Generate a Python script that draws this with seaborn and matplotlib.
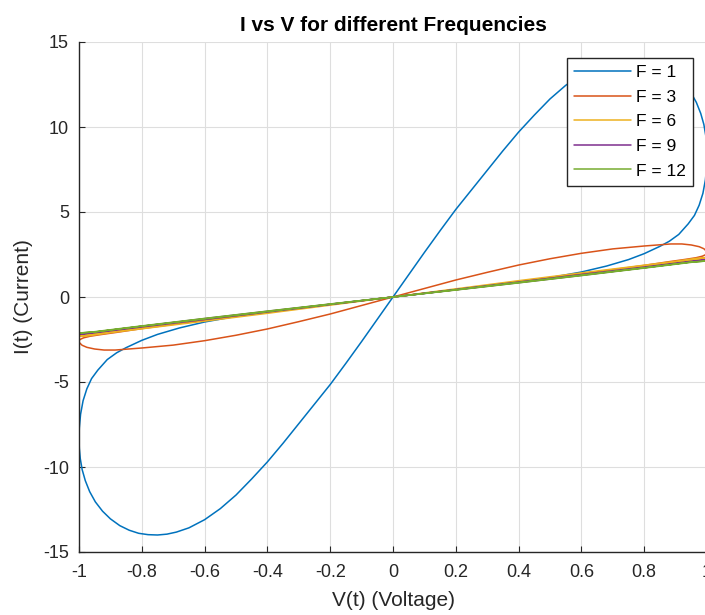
import matplotlib
matplotlib.use("Agg")
import matplotlib.pyplot as plt
import seaborn as sns
import pandas as pd

# ---- data: I-V loops of a memristor driven at several frequencies ----
freq_labels = ["F = 1", "F = 3", "F = 6", "F = 9", "F = 12"]
line_colors = ["#0072BD", "#D95319", "#EDB120", "#7E2F8E", "#77AC30"]

# F = 1 : positive half-cycle (low branch out, around the lobe, steep branch back)
v_f1_pos = [0.0, 0.1, 0.2, 0.3, 0.4, 0.5, 0.6, 0.68, 0.75, 0.8, 0.85, 0.88,
            0.91, 0.94, 0.96, 0.975, 0.987, 0.995, 0.999, 1.0, 0.999, 0.996,
            0.99, 0.98, 0.966, 0.948, 0.925, 0.9, 0.87, 0.84, 0.81, 0.78, 0.75,
            0.72, 0.69, 0.65, 0.6, 0.55, 0.5, 0.45, 0.4, 0.35, 0.3, 0.25, 0.2,
            0.15, 0.1, 0.05, 0.0]
i_f1_pos = [0.0, 0.21, 0.43, 0.65, 0.88, 1.14, 1.47, 1.82, 2.2, 2.55, 2.98, 3.28,
            3.68, 4.3, 4.8, 5.4, 6.1, 6.9, 7.7, 8.3, 8.9, 9.5, 10.15, 10.8,
            11.45, 12.05, 12.6, 13.05, 13.45, 13.72, 13.9, 13.98, 14.0, 13.95,
            13.83, 13.58, 13.1, 12.45, 11.65, 10.7, 9.7, 8.6, 7.45, 6.3, 5.15,
            3.9, 2.62, 1.31, 0.0]
# F = 1 : negative half-cycle
v_f1_neg = [0.0, -0.1, -0.2, -0.3, -0.4, -0.5, -0.6, -0.68, -0.75, -0.8, -0.85,
            -0.88, -0.91, -0.94, -0.96, -0.975, -0.987, -0.995, -0.999, -1.0,
            -0.999, -0.996, -0.99, -0.98, -0.966, -0.948, -0.925, -0.9, -0.87,
            -0.84, -0.81, -0.78, -0.75, -0.72, -0.69, -0.65, -0.6, -0.55, -0.5,
            -0.45, -0.4, -0.35, -0.3, -0.25, -0.2, -0.15, -0.1, -0.05, 0.0]
i_f1_neg = [0.0, -0.21, -0.43, -0.65, -0.88, -1.14, -1.47, -1.82, -2.2, -2.55,
            -2.98, -3.28, -3.68, -4.3, -4.8, -5.4, -6.1, -6.9, -7.7, -8.3, -8.9,
            -9.5, -10.15, -10.8, -11.45, -12.05, -12.6, -13.05, -13.45, -13.72,
            -13.9, -13.98, -14.0, -13.95, -13.83, -13.58, -13.1, -12.45, -11.65,
            -10.7, -9.7, -8.6, -7.45, -6.3, -5.15, -3.9, -2.62, -1.31, 0.0]

# F = 3
v_f3_pos = [0.0, 0.1, 0.2, 0.3, 0.4, 0.5, 0.6, 0.7, 0.8, 0.885, 0.92, 0.95,
            0.975, 0.99, 0.998, 1.0, 0.997, 0.985, 0.965, 0.93, 0.88, 0.8, 0.6,
            0.4, 0.2, 0.0]
i_f3_pos = [0.0, 0.5, 1.0, 1.45, 1.88, 2.25, 2.57, 2.83, 3.0, 3.12, 3.12, 3.06,
            2.96, 2.84, 2.7, 2.6, 2.5, 2.4, 2.31, 2.21, 2.08, 1.86, 1.36, 0.89,
            0.44, 0.0]
v_f3_neg = [0.0, -0.1, -0.2, -0.3, -0.4, -0.5, -0.6, -0.7, -0.8, -0.885, -0.92,
            -0.95, -0.975, -0.99, -0.998, -1.0, -0.997, -0.985, -0.965, -0.93,
            -0.88, -0.8, -0.6, -0.4, -0.2, 0.0]
i_f3_neg = [0.0, -0.5, -1.0, -1.45, -1.88, -2.25, -2.57, -2.83, -3.0, -3.12,
            -3.12, -3.06, -2.96, -2.84, -2.7, -2.6, -2.5, -2.4, -2.31, -2.21,
            -2.08, -1.86, -1.36, -0.89, -0.44, 0.0]

# F = 6
v_f6_pos = [0.0, 0.1, 0.2, 0.4, 0.6, 0.8, 0.9, 0.96, 0.99, 1.0, 0.99, 0.96, 0.9,
            0.8, 0.6, 0.4, 0.2, 0.0]
i_f6_pos = [0.0, 0.24, 0.48, 0.96, 1.42, 1.87, 2.1, 2.26, 2.32, 2.3, 2.26, 2.18,
            2.03, 1.79, 1.3, 0.86, 0.43, 0.0]
v_f6_neg = [0.0, -0.1, -0.2, -0.4, -0.6, -0.8, -0.9, -0.96, -0.99, -1.0, -0.99,
            -0.96, -0.9, -0.8, -0.6, -0.4, -0.2, 0.0]
i_f6_neg = [0.0, -0.24, -0.48, -0.96, -1.42, -1.87, -2.1, -2.26, -2.32, -2.3,
            -2.26, -2.18, -2.03, -1.79, -1.3, -0.86, -0.43, 0.0]

# F = 9
v_f9_pos = [0.0, 0.2, 0.4, 0.6, 0.8, 0.95, 1.0, 0.95, 0.8, 0.6, 0.4, 0.2, 0.0]
i_f9_pos = [0.0, 0.44, 0.88, 1.32, 1.76, 2.1, 2.2, 2.07, 1.72, 1.27, 0.84, 0.42, 0.0]
v_f9_neg = [0.0, -0.2, -0.4, -0.6, -0.8, -0.95, -1.0, -0.95, -0.8, -0.6, -0.4, -0.2, 0.0]
i_f9_neg = [0.0, -0.44, -0.88, -1.32, -1.76, -2.1, -2.2, -2.07, -1.72, -1.27,
            -0.84, -0.42, 0.0]

# F = 12
v_f12_pos = [0.0, 0.2, 0.4, 0.6, 0.8, 0.95, 1.0, 0.95, 0.8, 0.6, 0.4, 0.2, 0.0]
i_f12_pos = [0.0, 0.43, 0.86, 1.29, 1.72, 2.06, 2.12, 2.04, 1.7, 1.26, 0.83, 0.41, 0.0]
v_f12_neg = [0.0, -0.2, -0.4, -0.6, -0.8, -0.95, -1.0, -0.95, -0.8, -0.6, -0.4, -0.2, 0.0]
i_f12_neg = [0.0, -0.43, -0.86, -1.29, -1.72, -2.06, -2.12, -2.04, -1.7, -1.26,
             -0.83, -0.41, 0.0]

x_ticks = [-1, -0.8, -0.6, -0.4, -0.2, 0, 0.2, 0.4, 0.6, 0.8, 1]
x_tick_labels = ["-1", "-0.8", "-0.6", "-0.4", "-0.2", "0", "0.2", "0.4", "0.6", "0.8", "1"]
y_ticks = [-15, -10, -5, 0, 5, 10, 15]
y_tick_labels = ["-15", "-10", "-5", "0", "5", "10", "15"]

# ---- assemble a long table, one closed loop per frequency ----
loops = [
    (v_f1_pos + v_f1_neg, i_f1_pos + i_f1_neg),
    (v_f3_pos + v_f3_neg, i_f3_pos + i_f3_neg),
    (v_f6_pos + v_f6_neg, i_f6_pos + i_f6_neg),
    (v_f9_pos + v_f9_neg, i_f9_pos + i_f9_neg),
    (v_f12_pos + v_f12_neg, i_f12_pos + i_f12_neg),
]
frames = []
for label, (vv, ii) in zip(freq_labels, loops):
    frames.append(pd.DataFrame({"V": vv, "I": ii, "F": label}))
df = pd.concat(frames, ignore_index=True)

# ---- style ----
sns.set_theme(style="whitegrid")
plt.rcParams["font.family"] = ["Liberation Sans", "DejaVu Sans"]
plt.rcParams["axes.unicode_minus"] = False

fig = plt.figure(figsize=(7.05, 6.15), dpi=100)
ax = fig.add_axes([79 / 705, 1 - 552 / 615, 628 / 705, 510 / 615])

sns.lineplot(data=df, x="V", y="I", hue="F", hue_order=freq_labels,
             palette=line_colors, sort=False, estimator=None,
             linewidth=1.1, ax=ax)

ax.set_xlim(-1, 1)
ax.set_ylim(-15, 15)
ax.set_xticks(x_ticks)
ax.set_xticklabels(x_tick_labels)
ax.set_yticks(y_ticks)
ax.set_yticklabels(y_tick_labels)

ax.grid(True, color="#dedede", linewidth=0.8)
ax.set_facecolor("white")
for side in ("top", "right"):
    ax.spines[side].set_visible(False)
for side in ("left", "bottom"):
    ax.spines[side].set_visible(True)
    ax.spines[side].set_color("#262626")
    ax.spines[side].set_linewidth(1.0)

ax.tick_params(axis="both", which="major", direction="in", length=4, width=0.8,
               color="#262626", labelcolor="#262626", labelsize=13,
               left=True, bottom=True)
ax.tick_params(axis="x", pad=8.4)
ax.tick_params(axis="y", pad=7.2)

ax.set_xlabel("V(t) (Voltage)", fontsize=15, color="#262626")
ax.set_ylabel("I(t) (Current)", fontsize=15, color="#262626")
ax.xaxis.set_label_coords(0.5, -0.0765)
ax.yaxis.set_label_coords(-0.073, 0.5)

ax.set_title("I vs V for different Frequencies", fontsize=15, fontweight="bold",
             color="#000000", pad=8.0)

handles, labels = ax.get_legend_handles_labels()
leg = ax.legend(handles, labels, loc="upper right",
                bbox_to_anchor=(693 / 705, 1 - 58 / 615),
                bbox_transform=fig.transFigure, borderaxespad=0,
                fontsize=12.5, handlelength=3.25, handletextpad=0.3,
                labelspacing=0.54, borderpad=0.42, fancybox=False,
                framealpha=1, edgecolor="#262626", facecolor="white")
leg.get_frame().set_linewidth(1.0)
for t in leg.get_texts():
    t.set_color("#000000")

fig.savefig("out.png", dpi=100)
